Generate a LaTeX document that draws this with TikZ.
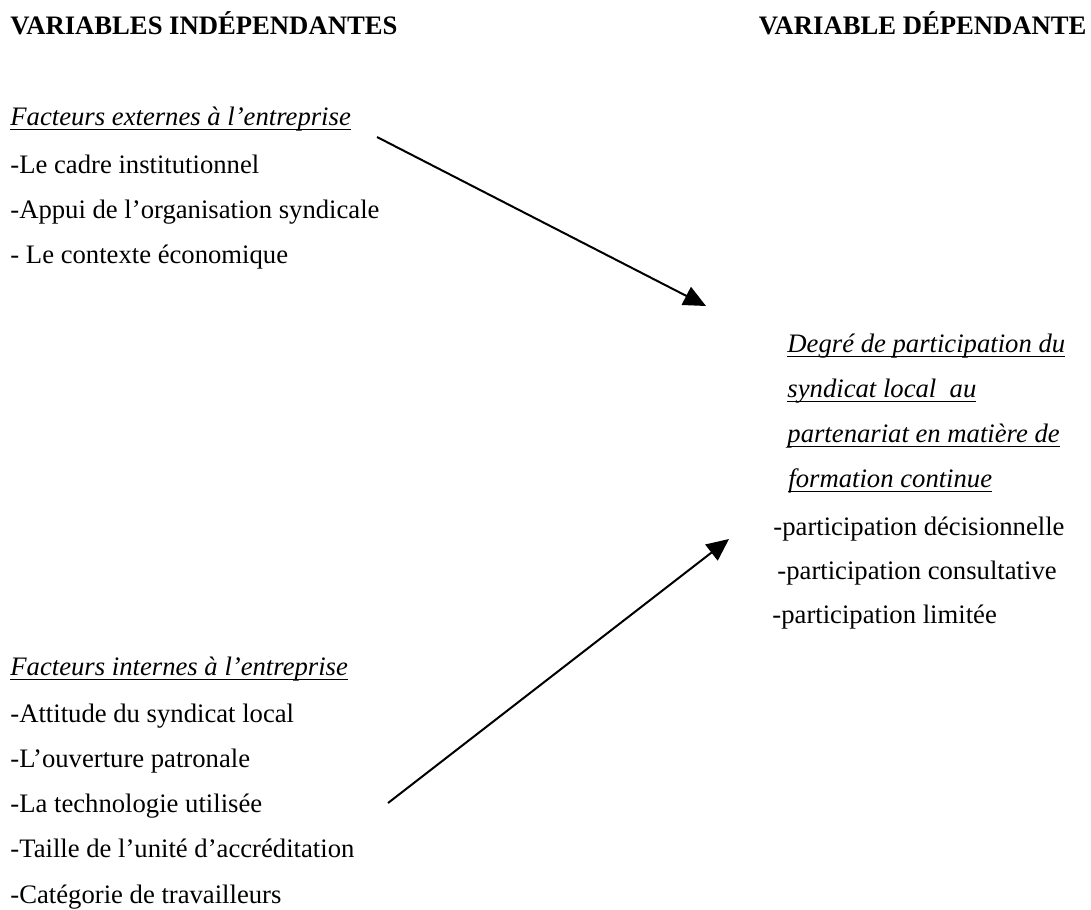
\documentclass[tikz,border=0pt]{standalone}
\usepackage{fontspec}
\setmainfont{Liberation Serif}
\usetikzlibrary{arrows.meta}
\usetikzlibrary{positioning}
\newcommand{\souligne}[1]{\setbox0\hbox{#1}\rlap{\rule[-2.3pt]{\wd0}{0.6pt}}\box0}
\tikzstyle{fleche} = [line width=0.9pt,-{Triangle[length=10pt,width=9pt]}]

\begin{document}
\begin{tikzpicture}[x=0.45pt,y=-0.45pt,
		ligne/.style = {anchor=base west, inner sep=0pt, font=\fontsize{12}{14}\selectfont},
		titre/.style = {ligne, font=\fontsize{12}{14}\selectfont\bfseries},
		rubrique/.style = {ligne, font=\fontsize{12}{14}\selectfont\itshape}]

		\useasboundingbox (0,0) rectangle (1091,909);

		% Titres
		\node[titre] (indep) at (10,34) {VARIABLES INDÉPENDANTES};
		\node[titre,anchor=base east] (dep) at (1087,34) {VARIABLE DÉPENDANTE};

		% Facteurs externes
		\node[rubrique] (ext) at (10,125) {\souligne{Facteurs externes à l’entreprise}};
		\node[ligne] (ext1) at (10,173) {-Le cadre institutionnel};
		\node[ligne] (ext2) at (10,218) {-Appui de l’organisation syndicale};
		\node[ligne] (ext3) at (10,263) {- Le contexte économique};

		% Facteurs internes
		\node[rubrique] (int) at (10,675) {\souligne{Facteurs internes à l’entreprise}};
		\node[ligne] (int1) at (10,722) {-Attitude du syndicat local};
		\node[ligne] (int2) at (10,767) {-L’ouverture patronale};
		\node[ligne] (int3) at (10,812) {-La technologie utilisée};
		\node[ligne] (int4) at (10,857) {-Taille de l’unité d’accréditation};
		\node[ligne] (int5) at (10,903) {-Catégorie de travailleurs};

		% Variable dependante
		\node[rubrique] (deg1) at (787,352) {\souligne{Degré de participation du}};
		\node[rubrique] (deg2) at (787,397) {\souligne{syndicat local\ \ au}};
		\node[rubrique] (deg3) at (787,442) {\souligne{partenariat en matière de}};
		\node[rubrique] (deg4) at (788,487) {\souligne{formation continue}};
		\node[ligne] (part1) at (773,535) {-participation décisionnelle};
		\node[ligne] (part2) at (777,579) {-participation consultative};
		\node[ligne] (part3) at (772,623) {-participation limitée};

		% Fleches
		\coordinate (depart1) at (377,137);
		\coordinate (cible1) at (706,306);
		\coordinate (depart2) at (388,803);
		\coordinate (cible2) at (729,539);
		\draw[fleche] (depart1) -- (cible1);
		\draw[fleche] (depart2) -- (cible2);
\end{tikzpicture}
\end{document}
